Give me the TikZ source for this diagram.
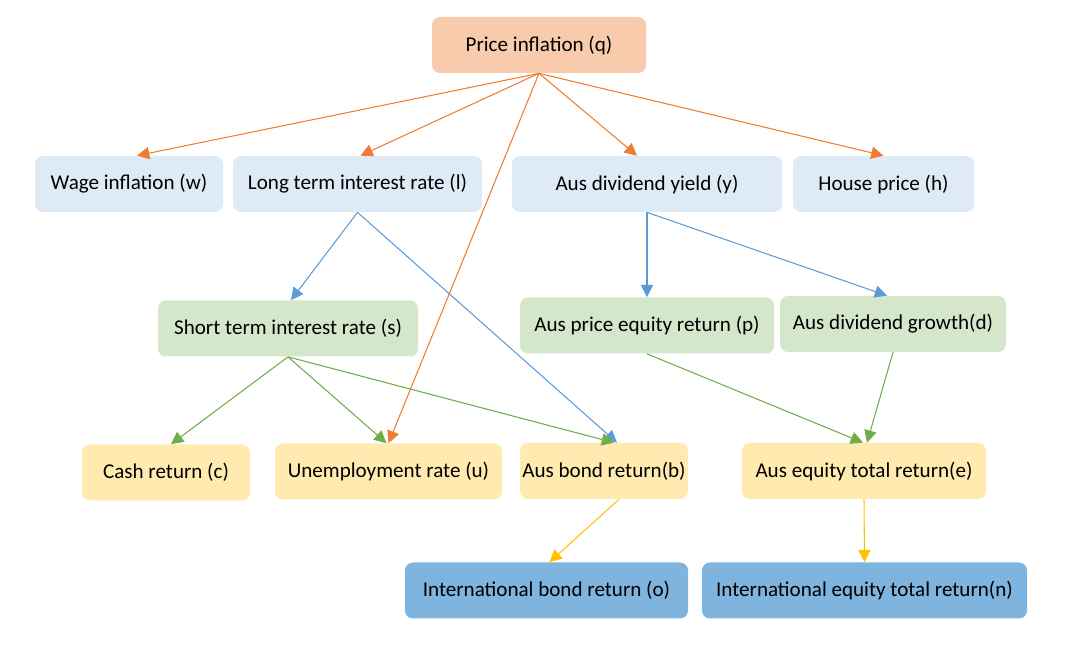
\documentclass[tikz,border=0pt]{standalone}
\usepackage{fontspec}
\setmainfont{Carlito}
\definecolor{qfill}{HTML}{F8CBAD}
\definecolor{lightblau}{HTML}{DEEBF7}
\definecolor{lightgruen}{HTML}{D5E7CA}
\definecolor{lightgelb}{HTML}{FFEAAF}
\definecolor{midblau}{HTML}{7FB4DF}
\definecolor{orangeline}{HTML}{ED7D31}
\definecolor{blauline}{HTML}{5B9BD5}
\definecolor{gruenline}{HTML}{70AD47}
\definecolor{gelbline}{HTML}{FFC000}
\usetikzlibrary{arrows.meta, positioning, calc}

\begin{document}
\begin{tikzpicture}[>={Triangle[length=7pt,width=7pt]},
    box/.style={rounded corners=4.5pt, minimum height=1.12cm, inner sep=0pt,
                font=\fontsize{12}{14}\selectfont},
    link/.style={->, line width=0.6pt}]
      \useasboundingbox (0,0) rectangle (21.32,-12.94);
      % Top level
      \node[box, fill=qfill, minimum width=4.28cm] (q) at (10.78,-0.90) {Price inflation (q)};
      % Second row
      \node[box, fill=lightblau, minimum width=3.76cm] (w) at (2.58,-3.68) {Wage inflation (w)};
      \node[box, fill=lightblau, minimum width=4.98cm] (l) at (7.15,-3.68) {Long term interest rate (l)};
      \node[box, fill=lightblau, minimum width=5.40cm] (y) at (12.94,-3.68) {Aus dividend yield (y)};
      \node[box, fill=lightblau, minimum width=3.62cm] (h) at (17.67,-3.68) {House price (h)};
      % Third row
      \node[box, fill=lightgruen, minimum width=5.20cm] (s) at (5.76,-6.57) {Short term interest rate (s)};
      \node[box, fill=lightgruen, minimum width=5.08cm] (p) at (12.94,-6.51) {Aus price equity return (p)};
      \node[box, fill=lightgruen, minimum width=4.52cm] (d) at (17.86,-6.48) {Aus dividend growth(d)};
      % Fourth row
      \node[box, fill=lightgelb, minimum width=3.36cm] (c) at (3.32,-9.45) {Cash return (c)};
      \node[box, fill=lightgelb, minimum width=4.54cm] (u) at (7.77,-9.43) {Unemployment rate (u)};
      \node[box, fill=lightgelb, minimum width=3.36cm] (b) at (12.08,-9.42) {Aus bond return(b)};
      \node[box, fill=lightgelb, minimum width=4.88cm] (e) at (17.28,-9.42) {Aus equity total return(e)};
      % Bottom row
      \node[box, fill=midblau, minimum width=5.66cm] (o) at (10.93,-11.81) {International bond return (o)};
      \node[box, fill=midblau, minimum width=6.50cm] (n) at (17.29,-11.81) {International equity total return(n)};
      % Price inflation
      \draw[link, orangeline] (q.south) -- ([xshift=0.16cm]w.north);
      \draw[link, orangeline] (q.south) -- ([xshift=0.06cm]l.north);
      \draw[link, orangeline] (q.south) -- ([xshift=-0.2cm]y.north);
      \draw[link, orangeline] (q.south) -- (h.north);
      \draw[link, orangeline] (q.south) -- (u.north);
      % Long term rate
      \draw[link, blauline] (l.south) -- ([xshift=0.06cm]s.north);
      \draw[link, blauline] (l.south) -- ([xshift=0.26cm]b.north);
      % Dividend yield
      \draw[link, blauline] (y.south) -- (p.north);
      \draw[link, blauline] (y.south) -- ([xshift=-0.12cm]d.north);
      % Short term rate
      \draw[link, gruenline] (s.south) -- ([xshift=0.1cm]c.north);
      \draw[link, gruenline] (s.south) -- ([xshift=-0.04cm]u.north);
      \draw[link, gruenline] (s.south) -- ([xshift=0.2cm]b.north);
      % Equity returns
      \draw[link, gruenline] (p.south) -- ([xshift=-0.02cm]e.north);
      \draw[link, gruenline] (d.south) -- ([xshift=0.06cm]e.north);
      % International
      \draw[link, gelbline] ([xshift=0.3cm]b.south) -- ([xshift=0.06cm]o.north);
      \draw[link, gelbline] (e.south) -- (n.north);
\end{tikzpicture}
\end{document}
